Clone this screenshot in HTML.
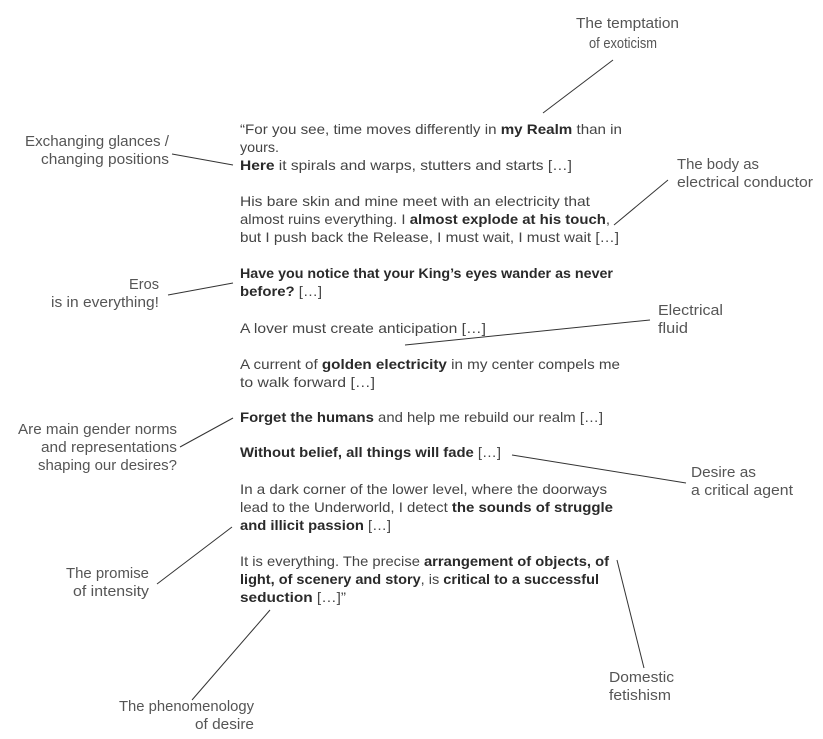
<!DOCTYPE html>
<html><head><meta charset="utf-8"><style>
html,body{margin:0;padding:0;background:#fff;}
svg{display:block;}
.m{font-family:"Liberation Sans",sans-serif;font-size:14px;fill:#444;}
.m tspan.b{font-weight:bold;fill:#2a2a2a;}
.a{font-family:"Liberation Sans",sans-serif;font-size:14.5px;fill:#555;}
line{stroke:#333;stroke-width:1;}
</style></head><body>
<svg width="823" height="739" viewBox="0 0 823 739" xmlns="http://www.w3.org/2000/svg">
<g class="m">
<text x="240" y="134" textLength="382" lengthAdjust="spacingAndGlyphs">“For you see, time moves differently in <tspan class="b">my Realm</tspan> than in</text>
<text x="240" y="152" textLength="39" lengthAdjust="spacingAndGlyphs">yours.</text>
<text x="240" y="170" textLength="332" lengthAdjust="spacingAndGlyphs"><tspan class="b">Here</tspan> it spirals and warps, stutters and starts […]</text>
<text x="240" y="206" textLength="350" lengthAdjust="spacingAndGlyphs">His bare skin and mine meet with an electricity that</text>
<text x="240" y="224" textLength="370" lengthAdjust="spacingAndGlyphs">almost ruins everything. I <tspan class="b">almost explode at his touch</tspan>,</text>
<text x="240" y="242" textLength="379" lengthAdjust="spacingAndGlyphs">but I push back the Release, I must wait, I must wait […]</text>
<text x="240" y="278" textLength="373" lengthAdjust="spacingAndGlyphs"><tspan class="b">Have you notice that your King’s eyes wander as never</tspan></text>
<text x="240" y="296" textLength="82" lengthAdjust="spacingAndGlyphs"><tspan class="b">before?</tspan> […]</text>
<text x="240" y="333" textLength="246" lengthAdjust="spacingAndGlyphs">A lover must create anticipation […]</text>
<text x="240" y="369" textLength="380" lengthAdjust="spacingAndGlyphs">A current of <tspan class="b">golden electricity</tspan> in my center compels me</text>
<text x="240" y="387" textLength="135" lengthAdjust="spacingAndGlyphs">to walk forward […]</text>
<text x="240" y="422" textLength="363" lengthAdjust="spacingAndGlyphs"><tspan class="b">Forget the humans</tspan> and help me rebuild our realm […]</text>
<text x="240" y="457" textLength="261" lengthAdjust="spacingAndGlyphs"><tspan class="b">Without belief, all things will fade</tspan> […]</text>
<text x="240" y="494" textLength="367" lengthAdjust="spacingAndGlyphs">In a dark corner of the lower level, where the doorways</text>
<text x="240" y="512" textLength="373" lengthAdjust="spacingAndGlyphs">lead to the Underworld, I detect <tspan class="b">the sounds of struggle</tspan></text>
<text x="240" y="530" textLength="151" lengthAdjust="spacingAndGlyphs"><tspan class="b">and illicit passion</tspan> […]</text>
<text x="240" y="566" textLength="369" lengthAdjust="spacingAndGlyphs">It is everything. The precise <tspan class="b">arrangement of objects, of</tspan></text>
<text x="240" y="584" textLength="359" lengthAdjust="spacingAndGlyphs"><tspan class="b">light, of scenery and story</tspan>, is <tspan class="b">critical to a successful</tspan></text>
<text x="240" y="602" textLength="106" lengthAdjust="spacingAndGlyphs"><tspan class="b">seduction</tspan> […]”</text>
</g>
<g class="a">
<text x="576" y="28" textLength="103" lengthAdjust="spacingAndGlyphs">The temptation</text>
<text x="589" y="48" textLength="68" lengthAdjust="spacingAndGlyphs">of exoticism</text>
<text x="25" y="146" textLength="144" lengthAdjust="spacingAndGlyphs">Exchanging glances /</text>
<text x="41" y="164" textLength="128" lengthAdjust="spacingAndGlyphs">changing positions</text>
<text x="677" y="169" textLength="82" lengthAdjust="spacingAndGlyphs">The body as</text>
<text x="677" y="187" textLength="136" lengthAdjust="spacingAndGlyphs">electrical conductor</text>
<text x="129" y="289" textLength="30" lengthAdjust="spacingAndGlyphs">Eros</text>
<text x="51" y="307" textLength="108" lengthAdjust="spacingAndGlyphs">is in everything!</text>
<text x="658" y="315" textLength="65" lengthAdjust="spacingAndGlyphs">Electrical</text>
<text x="658" y="333" textLength="30" lengthAdjust="spacingAndGlyphs">fluid</text>
<text x="18" y="434" textLength="159" lengthAdjust="spacingAndGlyphs">Are main gender norms</text>
<text x="41" y="452" textLength="136" lengthAdjust="spacingAndGlyphs">and representations</text>
<text x="38" y="470" textLength="139" lengthAdjust="spacingAndGlyphs">shaping our desires?</text>
<text x="691" y="477" textLength="65" lengthAdjust="spacingAndGlyphs">Desire as</text>
<text x="691" y="495" textLength="102" lengthAdjust="spacingAndGlyphs">a critical agent</text>
<text x="66" y="578" textLength="83" lengthAdjust="spacingAndGlyphs">The promise</text>
<text x="73" y="596" textLength="76" lengthAdjust="spacingAndGlyphs">of intensity</text>
<text x="119" y="711" textLength="135" lengthAdjust="spacingAndGlyphs">The phenomenology</text>
<text x="195" y="729" textLength="59" lengthAdjust="spacingAndGlyphs">of desire</text>
<text x="609" y="682" textLength="65" lengthAdjust="spacingAndGlyphs">Domestic</text>
<text x="609" y="700" textLength="62" lengthAdjust="spacingAndGlyphs">fetishism</text>
</g>
<g>
<line x1="613" y1="60" x2="543" y2="113"/>
<line x1="172" y1="154" x2="233" y2="165"/>
<line x1="668" y1="180" x2="614" y2="225"/>
<line x1="168" y1="295" x2="233" y2="283"/>
<line x1="650" y1="320" x2="405" y2="345"/>
<line x1="180" y1="447" x2="233" y2="418"/>
<line x1="512" y1="455" x2="686" y2="483"/>
<line x1="157" y1="584" x2="232" y2="527"/>
<line x1="192" y1="700" x2="270" y2="610"/>
<line x1="644" y1="668" x2="617" y2="560"/>
</g>
</svg>
</body></html>
